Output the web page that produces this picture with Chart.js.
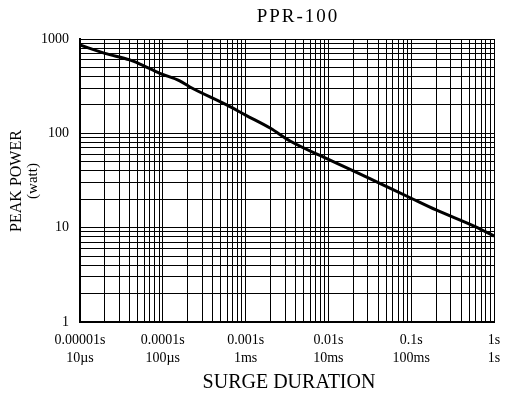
<!DOCTYPE html>
<html>
<head>
<meta charset="utf-8">
<script src="https://cdn.jsdelivr.net/npm/chart.js@4/dist/chart.umd.min.js"></script>
<style>
  html, body { margin: 0; padding: 0; background: #fff; }
  #wrap { width: 515px; height: 395px; }
</style>
</head>
<body>
<div id="wrap"><canvas id="chart" width="515" height="395"></canvas></div>
<script>
// values
const durations = [1e-5, 2e-5, 4e-5, 5.3e-5, 9.2e-5, 1.6e-4, 2.1e-4, 5.9e-4, 1e-3, 2e-3, 3.4e-3, 1e-2, 2e-2, 4e-2, 1e-1, 2e-1, 6e-1, 1];
const powers = [864, 705, 600, 543, 433, 360, 312, 200, 156, 113, 83.5, 53, 40, 30, 20.5, 15.4, 10.2, 8.15];

const xDecades = [1e-5, 1e-4, 1e-3, 1e-2, 1e-1, 1];
const xLabelsSec = ["0.00001s", "0.0001s", "0.001s", "0.01s", "0.1s", "1s"];
const xLabelsUnit = ["10µs", "100µs", "1ms", "10ms", "100ms", "1s"];
const yDecades = [1, 10, 100, 1000];
const yLabels = ["1", "10", "100", "1000"];

const chartTitle = "PPR-100";
const xTitle = "SURGE DURATION";
const yTitle = ["PEAK POWER", "(watt)"];

const FONT = "'Liberation Serif', 'Times New Roman', serif";

// gridlines at 1..9 of every decade, label only on the decade itself
function logGrid(decades, labelFor) {
  const out = [];
  decades.forEach((d, i) => {
    if (i === decades.length - 1) {
      out.push({ value: d, label: labelFor(i) });
      return;
    }
    for (let m = 1; m <= 9; m++) {
      out.push({ value: m * d, label: m === 1 ? labelFor(i) : "" });
    }
  });
  return out;
}

const xGrid = logGrid(xDecades, (i) => [xLabelsSec[i], xLabelsUnit[i]]);
const yGrid = logGrid(yDecades, (i) => yLabels[i]);

const textPlugin = {
  id: "texts",
  afterDraw(chart) {
    const ctx = chart.ctx;
    ctx.save();
    ctx.fillStyle = "#000";
    ctx.textAlign = "center";
    ctx.textBaseline = "middle";

    ctx.font = `19px ${FONT}`;
    ctx.letterSpacing = "2px";
    ctx.fillText(chartTitle, 298, 17);
    ctx.letterSpacing = "0px";

    ctx.font = `20px ${FONT}`;
    ctx.fillText(xTitle, 289, 383);

    ctx.translate(17, 181);
    ctx.rotate(-Math.PI / 2);
    ctx.font = `16px ${FONT}`;
    ctx.fillText(yTitle[0], 0, 0);
    ctx.font = `15px ${FONT}`;
    ctx.fillText(yTitle[1], 0, 16);
    ctx.restore();
  },
};

new Chart(document.getElementById("chart"), {
  type: "scatter",
  data: {
    datasets: [{
      data: durations.map((d, i) => ({ x: d, y: powers[i] })),
      showLine: true,
      borderColor: "#000",
      borderWidth: 3,
      pointRadius: 0,
      cubicInterpolationMode: "monotone",
    }],
  },
  options: {
    responsive: false,
    animation: false,
    layout: { padding: { top: 39, right: 21, left: 0, bottom: 0 } },
    plugins: { legend: { display: false }, title: { display: false }, tooltip: { enabled: false } },
    scales: {
      x: {
        type: "logarithmic",
        min: 1e-5,
        max: 1,
        afterBuildTicks: (scale) => { scale.ticks = xGrid.map((g) => ({ value: g.value })); },
        afterFit: (scale) => { scale.height = 73; },
        grid: { color: "#000", lineWidth: 1, drawTicks: false },
        border: { color: "#000", width: 2 },
        ticks: {
          autoSkip: false,
          maxRotation: 0,
          padding: 9,
          color: "#000",
          font: { family: FONT, size: 14, lineHeight: 1.3 },
          callback: (v, i) => xGrid[i].label,
        },
      },
      y: {
        type: "logarithmic",
        min: 1,
        max: 1000,
        afterBuildTicks: (scale) => { scale.ticks = yGrid.map((g) => ({ value: g.value })); },
        afterFit: (scale) => { scale.width = 80; },
        grid: { color: "#000", lineWidth: 1, drawTicks: false },
        border: { color: "#000", width: 2 },
        ticks: {
          autoSkip: false,
          padding: 11,
          color: "#000",
          font: { family: FONT, size: 14 },
          callback: (v, i) => yGrid[i].label,
        },
      },
    },
  },
  plugins: [textPlugin],
});
</script>
</body>
</html>
